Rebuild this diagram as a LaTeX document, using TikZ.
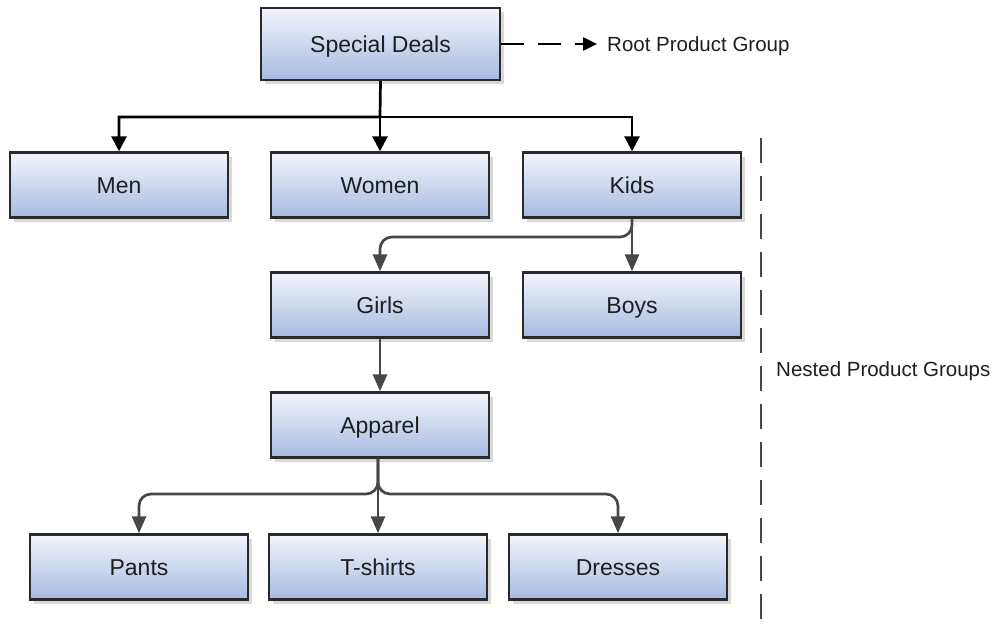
\documentclass[tikz,border=0pt]{standalone}
\usepackage{fontspec}
\setmainfont{Liberation Sans}
\usetikzlibrary{arrows.meta,shadows}
\definecolor{boxtop}{HTML}{F4F5FC}
\definecolor{boxbot}{HTML}{A6BAE0}
\definecolor{edge}{HTML}{2A2A2A}
\definecolor{linkgray}{HTML}{474747}
\definecolor{txt}{HTML}{1E1E1E}
\tikzset{
  group/.style={draw=edge, line width=2.4pt, top color=boxtop, bottom color=boxbot,
    minimum width=218pt, minimum height=65pt, inner sep=0pt,
    font=\fontsize{23}{26}\selectfont, text=txt, text height=16.5pt, text depth=0pt,
    drop shadow={shadow xshift=4pt, shadow yshift=-4pt, fill=black!25, opacity=0.6}},
  note/.style={font=\fontsize{20.5}{24}\selectfont, text=txt, inner sep=0pt, anchor=west,
    text height=14.7pt, text depth=0pt},
  toplink/.style={draw=black, line width=2.7pt, -{Triangle[length=15pt,width=15pt]}},
  sublink/.style={draw=linkgray, line width=2.7pt, rounded corners=12pt,
    -{Triangle[length=17pt,width=14pt]}},
  rootlink/.style={draw=black, line width=2.5pt, dash pattern=on 23pt off 14pt,
    -{Triangle[length=14pt,width=13pt]}},
  divider/.style={draw=linkgray, line width=2.8pt, dash pattern=on 25pt off 13pt},
}
\begin{document}
\begin{tikzpicture}[x=1pt,y=-1pt]
  \useasboundingbox (0,0) rectangle (999,624);

  % product group boxes
  \node[group, minimum width=239pt, minimum height=72pt] (deals) at (380.5,44) {Special Deals};
  \node[group] (men)   at (119,185) {Men};
  \node[group] (women) at (380,185) {Women};
  \node[group] (kids)  at (632,185) {Kids};
  \node[group] (girls) at (380,305) {Girls};
  \node[group] (boys)  at (632,305) {Boys};
  \node[group] (app)   at (380,425) {Apparel};
  \node[group] (pants) at (139,567) {Pants};
  \node[group] (tees)  at (378,567) {T-shirts};
  \node[group] (dress) at (618,567) {Dresses};

  % side labels
  \node[note] (rootlbl) at (607,44) {Root Product Group};
  \node[note] (nestlbl) at (776,369) {Nested Product Groups};

  % root level links
  \coordinate (hub) at (380,117);
  \draw[toplink] (deals.south) -- (hub) -| (men.north);
  \draw[toplink] (hub) -| (kids.north);
  \draw[toplink] (hub) -- (women.north);

  % kids sub groups
  \coordinate (kidshub) at (632,237);
  \draw[sublink] (kids.south) -- (kidshub) -| (girls.north);
  \draw[sublink] (kids.south) -- (boys.north);

  % girls and apparel
  \draw[sublink] (girls.south) -- (app.north);
  \coordinate (apphub) at (378,494);
  \draw[sublink] (app.south -| apphub) -- (apphub) -| (pants.north);
  \draw[sublink] (app.south -| apphub) -- (apphub) -| (dress.north);
  \draw[sublink] (app.south -| apphub) -- (tees.north);

  % root marker arrow
  \coordinate (rootend) at (597,44);
  \draw[rootlink] (deals.east) -- (rootend);

  % divider for nested groups
  \coordinate (divtop) at (761,138);
  \coordinate (divbot) at (761,624);
  \draw[divider] (divtop) -- (divbot);
\end{tikzpicture}
\end{document}
